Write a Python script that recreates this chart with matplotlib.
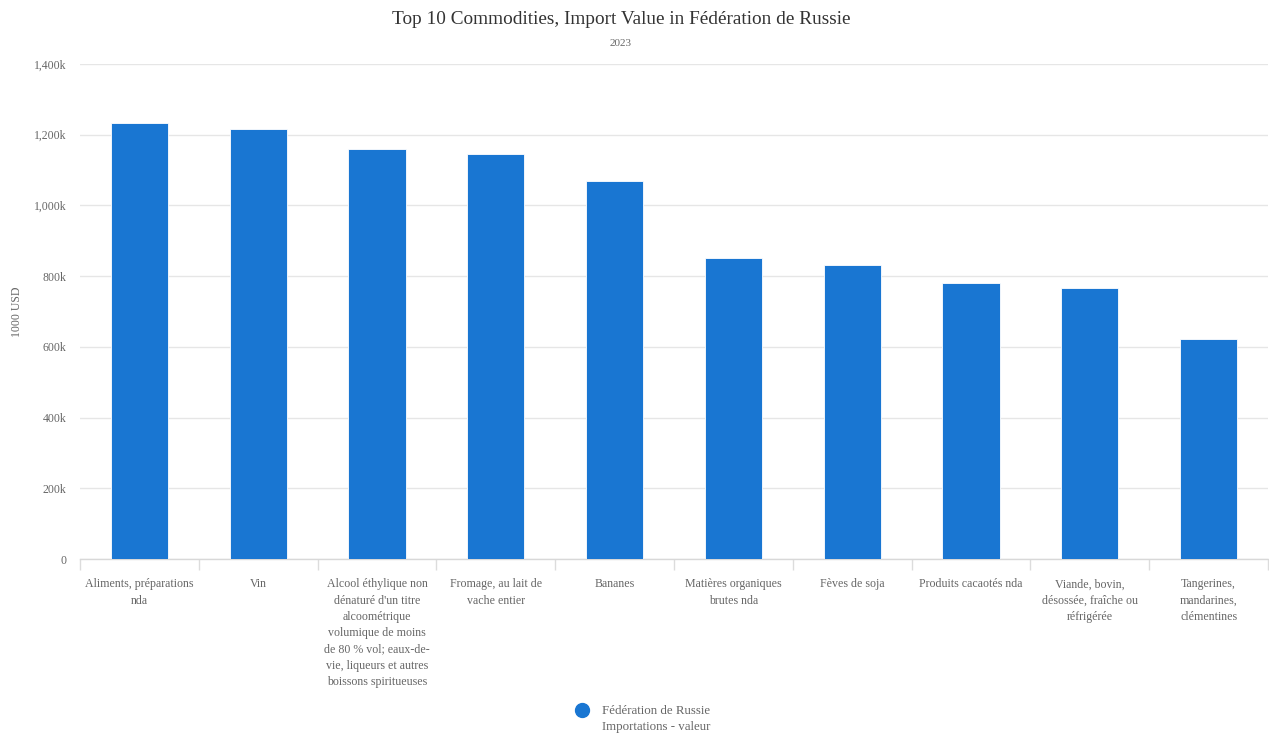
import matplotlib.pyplot as plt
from matplotlib.lines import Line2D
from matplotlib.ticker import FuncFormatter, FixedLocator

plt.rcParams['font.family'] = ['Liberation Serif', 'DejaVu Serif']

categories = [
    "Aliments, préparations\nnda",
    "Vin",
    "Alcool éthylique non\ndénaturé d'un titre\nalcoométrique\nvolumique de moins\nde 80 % vol; eaux-de-\nvie, liqueurs et autres\nboissons spiritueuses",
    "Fromage, au lait de\nvache entier",
    "Bananes",
    "Matières organiques\nbrutes nda",
    "Fèves de soja",
    "Produits cacaotés nda",
    "Viande, bovin,\ndésossée, fraîche ou\nréfrigérée",
    "Tangerines,\nmandarines,\nclémentines",
]
import_value = [1234, 1215, 1160, 1145, 1069, 852, 831, 782, 767, 623]  # 1000 USD, thousands

bar_color = '#1976D2'

fig = plt.figure(figsize=(12.69, 7.33), dpi=100)
ax = fig.add_axes([80 / 1269, (733 - 559) / 733, 1188 / 1269, (559 - 64) / 733])

x = range(len(categories))
ax.bar(x, import_value, width=0.48, color=bar_color, edgecolor='white', linewidth=0.6, zorder=3)

ax.set_xlim(-0.5, len(categories) - 0.5)
ax.set_ylim(0, 1400)
ax.set_yticks(range(0, 1401, 200))
ax.yaxis.set_major_formatter(FuncFormatter(lambda v, p: '0' if v == 0 else f'{int(v):,}k'))
ax.grid(axis='y', color='#e6e6e6', linewidth=1, zorder=0)

ax.set_xticks(list(x))
ax.set_xticklabels(categories, fontsize=8.6, color='#666666', linespacing=1.47, va='top')
ax.xaxis.set_minor_locator(FixedLocator([i - 0.5 for i in range(len(categories) + 1)]))
ax.tick_params(axis='x', which='major', length=0, pad=14)
ax.tick_params(axis='x', which='minor', length=8, color='#dcdcdc', width=1)
ax.tick_params(axis='y', length=0, labelsize=8.5, labelcolor='#666666', pad=10)

for side in ['top', 'right', 'left']:
    ax.spines[side].set_visible(False)
ax.spines['bottom'].set_color('#d8d8d8')
ax.spines['bottom'].set_linewidth(1)

ax.set_ylabel('1000 USD', fontsize=8.5, color='#666666', va='center')
ax.yaxis.set_label_coords((17 - 80) / 1188, 0.5)

fig.text(621 / 1269, 1 - 20 / 733, 'Top 10 Commodities, Import Value in Fédération de Russie',
         ha='center', va='center', fontsize=13.9, color='#333333')
fig.text(621 / 1269, 1 - 44 / 733, '2023', ha='center', va='center', fontsize=8, color='#666666')

# legend: round marker beside a two-line series name
fig.add_artist(Line2D([582 / 1269], [1 - 710 / 733], marker='o', linestyle='none', markersize=10,
                      markerfacecolor=bar_color, markeredgecolor=bar_color))
fig.text(602 / 1269, 1 - 719 / 733, 'Fédération de Russie\nImportations - valeur',
         ha='left', va='center', fontsize=9.3, color='#666666', linespacing=1.4)

fig.savefig('out.png', dpi=100)
